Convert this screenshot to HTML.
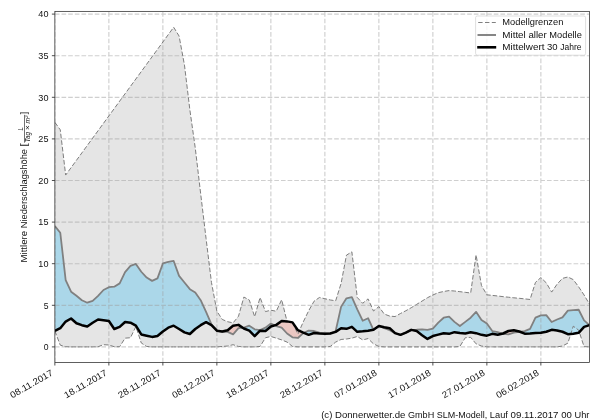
<!DOCTYPE html>
<html><head><meta charset="utf-8"><title>Niederschlag</title>
<style>html,body{margin:0;padding:0;background:#fff;}body{width:600px;height:420px;position:relative;overflow:hidden;font-family:"Liberation Sans",sans-serif;}</style></head>
<body>
<svg width="600" height="420" viewBox="0 0 600 420" style="position:absolute;left:0;top:0;will-change:transform;font-family:'Liberation Sans',sans-serif">
<defs>
<clipPath id="ax"><rect x="54.87" y="11.35" width="534.6" height="351.15"/></clipPath>
<clipPath id="above"><polygon points="54.87,11.35 54.87,330.93 60.27,328.19 65.67,321.55 71.07,318.48 76.47,323.21 81.87,325.20 87.27,326.53 92.67,322.71 98.07,319.47 103.47,320.22 108.87,320.97 114.27,329.02 119.67,326.94 125.07,321.96 130.47,322.71 135.87,325.70 141.27,334.41 146.67,335.66 152.07,336.90 157.47,335.91 162.87,331.51 168.27,327.69 173.67,325.70 179.07,329.02 184.47,332.34 189.87,334.00 195.27,329.02 200.67,325.20 206.07,322.21 211.47,325.20 216.87,330.68 222.27,331.51 227.67,330.18 233.07,325.70 238.47,324.87 243.87,328.52 249.27,330.68 254.67,336.07 260.07,330.68 265.47,331.01 270.87,326.53 276.27,324.87 281.67,321.05 287.07,321.38 292.47,322.38 297.87,330.18 303.27,332.67 308.67,334.83 314.07,333.00 319.47,333.50 324.87,333.83 330.27,333.50 335.67,331.84 341.07,328.19 346.47,328.85 351.87,326.86 357.27,331.84 362.67,331.34 368.07,330.68 373.47,329.85 378.87,326.03 384.27,327.19 389.67,328.19 395.07,333.17 400.47,334.83 405.87,332.67 411.27,329.85 416.67,331.01 422.07,335.16 427.47,338.94 432.87,336.07 438.27,334.66 443.67,333.17 449.07,333.83 454.47,332.17 459.87,333.00 465.27,333.50 470.67,332.34 476.07,333.17 481.47,334.83 486.87,335.66 492.27,333.83 497.67,334.83 503.07,333.50 508.47,331.01 513.87,330.18 519.27,331.51 524.67,333.67 530.07,333.50 535.47,333.00 540.87,332.67 546.27,331.76 551.67,329.85 557.07,330.43 562.47,331.76 567.87,334.17 573.27,333.83 578.67,332.84 584.07,326.86 589.47,325.12 589.47,11.35"/></clipPath>
<clipPath id="below"><polygon points="54.87,362.5 54.87,330.93 60.27,328.19 65.67,321.55 71.07,318.48 76.47,323.21 81.87,325.20 87.27,326.53 92.67,322.71 98.07,319.47 103.47,320.22 108.87,320.97 114.27,329.02 119.67,326.94 125.07,321.96 130.47,322.71 135.87,325.70 141.27,334.41 146.67,335.66 152.07,336.90 157.47,335.91 162.87,331.51 168.27,327.69 173.67,325.70 179.07,329.02 184.47,332.34 189.87,334.00 195.27,329.02 200.67,325.20 206.07,322.21 211.47,325.20 216.87,330.68 222.27,331.51 227.67,330.18 233.07,325.70 238.47,324.87 243.87,328.52 249.27,330.68 254.67,336.07 260.07,330.68 265.47,331.01 270.87,326.53 276.27,324.87 281.67,321.05 287.07,321.38 292.47,322.38 297.87,330.18 303.27,332.67 308.67,334.83 314.07,333.00 319.47,333.50 324.87,333.83 330.27,333.50 335.67,331.84 341.07,328.19 346.47,328.85 351.87,326.86 357.27,331.84 362.67,331.34 368.07,330.68 373.47,329.85 378.87,326.03 384.27,327.19 389.67,328.19 395.07,333.17 400.47,334.83 405.87,332.67 411.27,329.85 416.67,331.01 422.07,335.16 427.47,338.94 432.87,336.07 438.27,334.66 443.67,333.17 449.07,333.83 454.47,332.17 459.87,333.00 465.27,333.50 470.67,332.34 476.07,333.17 481.47,334.83 486.87,335.66 492.27,333.83 497.67,334.83 503.07,333.50 508.47,331.01 513.87,330.18 519.27,331.51 524.67,333.67 530.07,333.50 535.47,333.00 540.87,332.67 546.27,331.76 551.67,329.85 557.07,330.43 562.47,331.76 567.87,334.17 573.27,333.83 578.67,332.84 584.07,326.86 589.47,325.12 589.47,362.5"/></clipPath>
</defs>
<rect width="600" height="420" fill="#fff"/>
<g clip-path="url(#ax)">
<polygon points="54.87,122.35 60.27,129.82 65.67,175.05 71.07,167.66 76.47,160.27 81.87,152.88 87.27,145.49 92.67,138.10 98.07,130.71 103.47,123.32 108.87,115.93 114.27,108.53 119.67,101.14 125.07,93.75 130.47,86.36 135.87,78.97 141.27,71.58 146.67,64.19 152.07,56.80 157.47,49.41 162.87,42.01 168.27,34.62 173.67,27.23 179.07,36.03 184.47,65.08 189.87,109.90 195.27,148.08 200.67,193.73 206.07,238.55 211.47,282.54 216.87,311.17 222.27,319.47 227.67,321.72 233.07,322.88 238.47,316.32 243.87,297.06 249.27,299.97 254.67,316.74 260.07,297.48 265.47,311.59 270.87,310.18 276.27,311.26 281.67,299.72 287.07,321.55 292.47,322.38 297.87,334.17 303.27,321.88 308.67,310.76 314.07,301.21 319.47,297.48 324.87,298.72 330.27,299.97 335.67,300.80 341.07,283.54 346.47,255.15 351.87,251.83 357.27,297.48 362.67,303.29 368.07,298.89 373.47,311.01 378.87,306.61 384.27,314.08 389.67,316.07 395.07,316.57 400.47,313.50 405.87,310.76 411.27,307.69 416.67,304.37 422.07,301.05 427.47,297.73 432.87,294.99 438.27,292.67 443.67,291.50 449.07,290.59 454.47,291.01 459.87,291.67 465.27,292.33 470.67,293.00 476.07,254.90 481.47,285.53 486.87,294.82 492.27,295.40 497.67,295.99 503.07,296.65 508.47,297.23 513.87,297.81 519.27,298.31 524.67,298.89 530.07,299.47 535.47,282.37 540.87,277.56 546.27,282.87 551.67,292.08 557.07,284.20 562.47,278.39 567.87,276.98 573.27,279.63 578.67,286.86 584.07,294.99 589.47,304.12 589.47,346.90 584.07,346.64 578.67,330.18 573.27,326.20 567.87,343.14 562.47,346.02 557.07,346.90 551.67,346.90 546.27,346.90 540.87,346.90 535.47,346.90 530.07,346.90 524.67,346.90 519.27,346.90 513.87,346.90 508.47,346.90 503.07,346.90 497.67,346.90 492.27,346.90 486.87,346.90 481.47,346.02 476.07,343.84 470.67,337.32 465.27,337.74 459.87,346.46 454.47,346.90 449.07,346.90 443.67,346.90 438.27,346.90 432.87,346.90 427.47,346.90 422.07,346.90 416.67,346.90 411.27,346.90 405.87,346.90 400.47,346.90 395.07,346.90 389.67,346.90 384.27,346.90 378.87,346.46 373.47,343.84 368.07,338.59 362.67,339.90 357.27,336.49 351.87,338.15 346.47,339.02 341.07,339.46 335.67,342.09 330.27,346.46 324.87,346.90 319.47,346.90 314.07,346.90 308.67,346.90 303.27,346.90 297.87,346.90 292.47,346.46 287.07,342.09 281.67,339.90 276.27,338.15 270.87,336.49 265.47,337.74 260.07,346.46 254.67,346.90 249.27,346.90 243.87,346.90 238.47,346.46 233.07,344.71 227.67,346.02 222.27,346.46 216.87,346.90 211.47,346.90 206.07,346.90 200.67,346.90 195.27,346.90 189.87,346.90 184.47,346.90 179.07,346.90 173.67,346.90 168.27,346.90 162.87,346.90 157.47,346.90 152.07,346.90 146.67,346.46 141.27,342.96 135.87,326.53 130.47,337.74 125.07,338.15 119.67,346.72 114.27,346.72 108.87,344.97 103.47,344.71 98.07,346.72 92.67,346.90 87.27,346.90 81.87,346.90 76.47,346.90 71.07,346.90 65.67,346.72 60.27,345.15 54.87,330.93" fill="#e5e5e5"/>
<g clip-path="url(#above)"><polygon points="54.87,226.10 60.27,232.74 65.67,280.05 71.07,291.67 76.47,295.82 81.87,300.22 87.27,302.71 92.67,300.80 98.07,295.82 103.47,290.01 108.87,287.19 114.27,286.69 119.67,283.37 125.07,272.16 130.47,265.94 135.87,263.95 141.27,271.75 146.67,277.56 152.07,280.88 157.47,278.39 162.87,263.45 168.27,261.79 173.67,260.96 179.07,275.90 184.47,282.54 189.87,289.18 195.27,292.50 200.67,300.22 206.07,311.84 211.47,324.37 216.87,330.68 222.27,331.84 227.67,331.84 233.07,334.33 238.47,328.19 243.87,327.69 249.27,325.70 254.67,329.35 260.07,330.18 265.47,327.69 270.87,323.54 276.27,326.03 281.67,327.69 287.07,333.50 292.47,337.32 297.87,337.98 303.27,333.17 308.67,330.68 314.07,331.01 319.47,332.67 324.87,333.50 330.27,333.50 335.67,331.01 341.07,306.86 346.47,298.31 351.87,297.23 357.27,309.35 362.67,320.72 368.07,318.23 373.47,329.85 378.87,326.03 384.27,328.19 389.67,330.18 395.07,333.17 400.47,334.83 405.87,332.67 411.27,329.85 416.67,329.68 422.07,329.35 427.47,329.85 432.87,328.52 438.27,322.71 443.67,317.73 449.07,316.57 454.47,321.88 459.87,326.03 465.27,321.88 470.67,317.73 476.07,311.84 481.47,319.89 486.87,323.54 492.27,331.01 497.67,332.17 503.07,333.83 508.47,334.33 513.87,332.67 519.27,331.84 524.67,331.18 530.07,328.85 535.47,317.65 540.87,315.41 546.27,315.08 551.67,322.05 557.07,319.47 562.47,317.40 567.87,310.59 573.27,310.18 578.67,309.76 584.07,320.31 589.47,325.12 589.47,325.12 584.07,326.86 578.67,332.84 573.27,333.83 567.87,334.17 562.47,331.76 557.07,330.43 551.67,329.85 546.27,331.76 540.87,332.67 535.47,333.00 530.07,333.50 524.67,333.67 519.27,331.51 513.87,330.18 508.47,331.01 503.07,333.50 497.67,334.83 492.27,333.83 486.87,335.66 481.47,334.83 476.07,333.17 470.67,332.34 465.27,333.50 459.87,333.00 454.47,332.17 449.07,333.83 443.67,333.17 438.27,334.66 432.87,336.07 427.47,338.94 422.07,335.16 416.67,331.01 411.27,329.85 405.87,332.67 400.47,334.83 395.07,333.17 389.67,328.19 384.27,327.19 378.87,326.03 373.47,329.85 368.07,330.68 362.67,331.34 357.27,331.84 351.87,326.86 346.47,328.85 341.07,328.19 335.67,331.84 330.27,333.50 324.87,333.83 319.47,333.50 314.07,333.00 308.67,334.83 303.27,332.67 297.87,330.18 292.47,322.38 287.07,321.38 281.67,321.05 276.27,324.87 270.87,326.53 265.47,331.01 260.07,330.68 254.67,336.07 249.27,330.68 243.87,328.52 238.47,324.87 233.07,325.70 227.67,330.18 222.27,331.51 216.87,330.68 211.47,325.20 206.07,322.21 200.67,325.20 195.27,329.02 189.87,334.00 184.47,332.34 179.07,329.02 173.67,325.70 168.27,327.69 162.87,331.51 157.47,335.91 152.07,336.90 146.67,335.66 141.27,334.41 135.87,325.70 130.47,322.71 125.07,321.96 119.67,326.94 114.27,329.02 108.87,320.97 103.47,320.22 98.07,319.47 92.67,322.71 87.27,326.53 81.87,325.20 76.47,323.21 71.07,318.48 65.67,321.55 60.27,328.19 54.87,330.93" fill="rgb(135,206,235)" fill-opacity="0.62"/></g>
<g clip-path="url(#below)"><polygon points="54.87,226.10 60.27,232.74 65.67,280.05 71.07,291.67 76.47,295.82 81.87,300.22 87.27,302.71 92.67,300.80 98.07,295.82 103.47,290.01 108.87,287.19 114.27,286.69 119.67,283.37 125.07,272.16 130.47,265.94 135.87,263.95 141.27,271.75 146.67,277.56 152.07,280.88 157.47,278.39 162.87,263.45 168.27,261.79 173.67,260.96 179.07,275.90 184.47,282.54 189.87,289.18 195.27,292.50 200.67,300.22 206.07,311.84 211.47,324.37 216.87,330.68 222.27,331.84 227.67,331.84 233.07,334.33 238.47,328.19 243.87,327.69 249.27,325.70 254.67,329.35 260.07,330.18 265.47,327.69 270.87,323.54 276.27,326.03 281.67,327.69 287.07,333.50 292.47,337.32 297.87,337.98 303.27,333.17 308.67,330.68 314.07,331.01 319.47,332.67 324.87,333.50 330.27,333.50 335.67,331.01 341.07,306.86 346.47,298.31 351.87,297.23 357.27,309.35 362.67,320.72 368.07,318.23 373.47,329.85 378.87,326.03 384.27,328.19 389.67,330.18 395.07,333.17 400.47,334.83 405.87,332.67 411.27,329.85 416.67,329.68 422.07,329.35 427.47,329.85 432.87,328.52 438.27,322.71 443.67,317.73 449.07,316.57 454.47,321.88 459.87,326.03 465.27,321.88 470.67,317.73 476.07,311.84 481.47,319.89 486.87,323.54 492.27,331.01 497.67,332.17 503.07,333.83 508.47,334.33 513.87,332.67 519.27,331.84 524.67,331.18 530.07,328.85 535.47,317.65 540.87,315.41 546.27,315.08 551.67,322.05 557.07,319.47 562.47,317.40 567.87,310.59 573.27,310.18 578.67,309.76 584.07,320.31 589.47,325.12 589.47,325.12 584.07,326.86 578.67,332.84 573.27,333.83 567.87,334.17 562.47,331.76 557.07,330.43 551.67,329.85 546.27,331.76 540.87,332.67 535.47,333.00 530.07,333.50 524.67,333.67 519.27,331.51 513.87,330.18 508.47,331.01 503.07,333.50 497.67,334.83 492.27,333.83 486.87,335.66 481.47,334.83 476.07,333.17 470.67,332.34 465.27,333.50 459.87,333.00 454.47,332.17 449.07,333.83 443.67,333.17 438.27,334.66 432.87,336.07 427.47,338.94 422.07,335.16 416.67,331.01 411.27,329.85 405.87,332.67 400.47,334.83 395.07,333.17 389.67,328.19 384.27,327.19 378.87,326.03 373.47,329.85 368.07,330.68 362.67,331.34 357.27,331.84 351.87,326.86 346.47,328.85 341.07,328.19 335.67,331.84 330.27,333.50 324.87,333.83 319.47,333.50 314.07,333.00 308.67,334.83 303.27,332.67 297.87,330.18 292.47,322.38 287.07,321.38 281.67,321.05 276.27,324.87 270.87,326.53 265.47,331.01 260.07,330.68 254.67,336.07 249.27,330.68 243.87,328.52 238.47,324.87 233.07,325.70 227.67,330.18 222.27,331.51 216.87,330.68 211.47,325.20 206.07,322.21 200.67,325.20 195.27,329.02 189.87,334.00 184.47,332.34 179.07,329.02 173.67,325.70 168.27,327.69 162.87,331.51 157.47,335.91 152.07,336.90 146.67,335.66 141.27,334.41 135.87,325.70 130.47,322.71 125.07,321.96 119.67,326.94 114.27,329.02 108.87,320.97 103.47,320.22 98.07,319.47 92.67,322.71 87.27,326.53 81.87,325.20 76.47,323.21 71.07,318.48 65.67,321.55 60.27,328.19 54.87,330.93" fill="rgb(250,128,114)" fill-opacity="0.3"/></g>
<path d="M54.87,362.5V11.35M108.87,362.5V11.35M162.87,362.5V11.35M216.87,362.5V11.35M270.87,362.5V11.35M324.87,362.5V11.35M378.87,362.5V11.35M432.87,362.5V11.35M486.87,362.5V11.35M540.87,362.5V11.35M54.87,346.90H589.47M54.87,305.30H589.47M54.87,263.70H589.47M54.87,222.10H589.47M54.87,180.50H589.47M54.87,138.90H589.47M54.87,97.30H589.47M54.87,55.70H589.47M54.87,14.10H589.47" stroke="#a0a0a0" stroke-opacity="0.5" stroke-width="1.15" stroke-dasharray="4.64 2.01" fill="none"/>
<polyline points="54.87,122.35 60.27,129.82 65.67,175.05 71.07,167.66 76.47,160.27 81.87,152.88 87.27,145.49 92.67,138.10 98.07,130.71 103.47,123.32 108.87,115.93 114.27,108.53 119.67,101.14 125.07,93.75 130.47,86.36 135.87,78.97 141.27,71.58 146.67,64.19 152.07,56.80 157.47,49.41 162.87,42.01 168.27,34.62 173.67,27.23 179.07,36.03 184.47,65.08 189.87,109.90 195.27,148.08 200.67,193.73 206.07,238.55 211.47,282.54 216.87,311.17 222.27,319.47 227.67,321.72 233.07,322.88 238.47,316.32 243.87,297.06 249.27,299.97 254.67,316.74 260.07,297.48 265.47,311.59 270.87,310.18 276.27,311.26 281.67,299.72 287.07,321.55 292.47,322.38 297.87,334.17 303.27,321.88 308.67,310.76 314.07,301.21 319.47,297.48 324.87,298.72 330.27,299.97 335.67,300.80 341.07,283.54 346.47,255.15 351.87,251.83 357.27,297.48 362.67,303.29 368.07,298.89 373.47,311.01 378.87,306.61 384.27,314.08 389.67,316.07 395.07,316.57 400.47,313.50 405.87,310.76 411.27,307.69 416.67,304.37 422.07,301.05 427.47,297.73 432.87,294.99 438.27,292.67 443.67,291.50 449.07,290.59 454.47,291.01 459.87,291.67 465.27,292.33 470.67,293.00 476.07,254.90 481.47,285.53 486.87,294.82 492.27,295.40 497.67,295.99 503.07,296.65 508.47,297.23 513.87,297.81 519.27,298.31 524.67,298.89 530.07,299.47 535.47,282.37 540.87,277.56 546.27,282.87 551.67,292.08 557.07,284.20 562.47,278.39 567.87,276.98 573.27,279.63 578.67,286.86 584.07,294.99 589.47,304.12" fill="none" stroke="#7d7d7d" stroke-width="1.0" stroke-dasharray="4.6 2"/>
<polyline points="54.87,330.93 60.27,345.15 65.67,346.72 71.07,346.90 76.47,346.90 81.87,346.90 87.27,346.90 92.67,346.90 98.07,346.72 103.47,344.71 108.87,344.97 114.27,346.72 119.67,346.72 125.07,338.15 130.47,337.74 135.87,326.53 141.27,342.96 146.67,346.46 152.07,346.90 157.47,346.90 162.87,346.90 168.27,346.90 173.67,346.90 179.07,346.90 184.47,346.90 189.87,346.90 195.27,346.90 200.67,346.90 206.07,346.90 211.47,346.90 216.87,346.90 222.27,346.46 227.67,346.02 233.07,344.71 238.47,346.46 243.87,346.90 249.27,346.90 254.67,346.90 260.07,346.46 265.47,337.74 270.87,336.49 276.27,338.15 281.67,339.90 287.07,342.09 292.47,346.46 297.87,346.90 303.27,346.90 308.67,346.90 314.07,346.90 319.47,346.90 324.87,346.90 330.27,346.46 335.67,342.09 341.07,339.46 346.47,339.02 351.87,338.15 357.27,336.49 362.67,339.90 368.07,338.59 373.47,343.84 378.87,346.46 384.27,346.90 389.67,346.90 395.07,346.90 400.47,346.90 405.87,346.90 411.27,346.90 416.67,346.90 422.07,346.90 427.47,346.90 432.87,346.90 438.27,346.90 443.67,346.90 449.07,346.90 454.47,346.90 459.87,346.46 465.27,337.74 470.67,337.32 476.07,343.84 481.47,346.02 486.87,346.90 492.27,346.90 497.67,346.90 503.07,346.90 508.47,346.90 513.87,346.90 519.27,346.90 524.67,346.90 530.07,346.90 535.47,346.90 540.87,346.90 546.27,346.90 551.67,346.90 557.07,346.90 562.47,346.02 567.87,343.14 573.27,326.20 578.67,330.18 584.07,346.64 589.47,346.90" fill="none" stroke="#7d7d7d" stroke-width="1.0" stroke-dasharray="4.6 2"/>
<polyline points="54.87,226.10 60.27,232.74 65.67,280.05 71.07,291.67 76.47,295.82 81.87,300.22 87.27,302.71 92.67,300.80 98.07,295.82 103.47,290.01 108.87,287.19 114.27,286.69 119.67,283.37 125.07,272.16 130.47,265.94 135.87,263.95 141.27,271.75 146.67,277.56 152.07,280.88 157.47,278.39 162.87,263.45 168.27,261.79 173.67,260.96 179.07,275.90 184.47,282.54 189.87,289.18 195.27,292.50 200.67,300.22 206.07,311.84 211.47,324.37 216.87,330.68 222.27,331.84 227.67,331.84 233.07,334.33 238.47,328.19 243.87,327.69 249.27,325.70 254.67,329.35 260.07,330.18 265.47,327.69 270.87,323.54 276.27,326.03 281.67,327.69 287.07,333.50 292.47,337.32 297.87,337.98 303.27,333.17 308.67,330.68 314.07,331.01 319.47,332.67 324.87,333.50 330.27,333.50 335.67,331.01 341.07,306.86 346.47,298.31 351.87,297.23 357.27,309.35 362.67,320.72 368.07,318.23 373.47,329.85 378.87,326.03 384.27,328.19 389.67,330.18 395.07,333.17 400.47,334.83 405.87,332.67 411.27,329.85 416.67,329.68 422.07,329.35 427.47,329.85 432.87,328.52 438.27,322.71 443.67,317.73 449.07,316.57 454.47,321.88 459.87,326.03 465.27,321.88 470.67,317.73 476.07,311.84 481.47,319.89 486.87,323.54 492.27,331.01 497.67,332.17 503.07,333.83 508.47,334.33 513.87,332.67 519.27,331.84 524.67,331.18 530.07,328.85 535.47,317.65 540.87,315.41 546.27,315.08 551.67,322.05 557.07,319.47 562.47,317.40 567.87,310.59 573.27,310.18 578.67,309.76 584.07,320.31 589.47,325.12" fill="none" stroke="#808080" stroke-width="1.8" stroke-linejoin="round"/>
<polyline points="54.87,330.93 60.27,328.19 65.67,321.55 71.07,318.48 76.47,323.21 81.87,325.20 87.27,326.53 92.67,322.71 98.07,319.47 103.47,320.22 108.87,320.97 114.27,329.02 119.67,326.94 125.07,321.96 130.47,322.71 135.87,325.70 141.27,334.41 146.67,335.66 152.07,336.90 157.47,335.91 162.87,331.51 168.27,327.69 173.67,325.70 179.07,329.02 184.47,332.34 189.87,334.00 195.27,329.02 200.67,325.20 206.07,322.21 211.47,325.20 216.87,330.68 222.27,331.51 227.67,330.18 233.07,325.70 238.47,324.87 243.87,328.52 249.27,330.68 254.67,336.07 260.07,330.68 265.47,331.01 270.87,326.53 276.27,324.87 281.67,321.05 287.07,321.38 292.47,322.38 297.87,330.18 303.27,332.67 308.67,334.83 314.07,333.00 319.47,333.50 324.87,333.83 330.27,333.50 335.67,331.84 341.07,328.19 346.47,328.85 351.87,326.86 357.27,331.84 362.67,331.34 368.07,330.68 373.47,329.85 378.87,326.03 384.27,327.19 389.67,328.19 395.07,333.17 400.47,334.83 405.87,332.67 411.27,329.85 416.67,331.01 422.07,335.16 427.47,338.94 432.87,336.07 438.27,334.66 443.67,333.17 449.07,333.83 454.47,332.17 459.87,333.00 465.27,333.50 470.67,332.34 476.07,333.17 481.47,334.83 486.87,335.66 492.27,333.83 497.67,334.83 503.07,333.50 508.47,331.01 513.87,330.18 519.27,331.51 524.67,333.67 530.07,333.50 535.47,333.00 540.87,332.67 546.27,331.76 551.67,329.85 557.07,330.43 562.47,331.76 567.87,334.17 573.27,333.83 578.67,332.84 584.07,326.86 589.47,325.12" fill="none" stroke="#000" stroke-width="2.5" stroke-linejoin="round"/>
</g>
<rect x="54.87" y="11.35" width="534.6" height="351.15" fill="none" stroke="#222" stroke-width="0.72"/>
<path d="M54.87,362.5v3M108.87,362.5v3M162.87,362.5v3M216.87,362.5v3M270.87,362.5v3M324.87,362.5v3M378.87,362.5v3M432.87,362.5v3M486.87,362.5v3M540.87,362.5v3M54.87,346.90h-3M54.87,305.30h-3M54.87,263.70h-3M54.87,222.10h-3M54.87,180.50h-3M54.87,138.90h-3M54.87,97.30h-3M54.87,55.70h-3M54.87,14.10h-3" stroke="#222" stroke-width="0.8" fill="none"/>
<text x="43.67" y="350.10" font-size="9.0" fill="#111" textLength="4.80" lengthAdjust="spacingAndGlyphs">0</text>
<text x="43.67" y="308.50" font-size="9.0" fill="#111" textLength="4.80" lengthAdjust="spacingAndGlyphs">5</text>
<text x="38.37" y="266.90" font-size="9.0" fill="#111" textLength="10.10" lengthAdjust="spacingAndGlyphs">10</text>
<text x="38.37" y="225.30" font-size="9.0" fill="#111" textLength="10.10" lengthAdjust="spacingAndGlyphs">15</text>
<text x="38.37" y="183.70" font-size="9.0" fill="#111" textLength="10.10" lengthAdjust="spacingAndGlyphs">20</text>
<text x="38.37" y="142.10" font-size="9.0" fill="#111" textLength="10.10" lengthAdjust="spacingAndGlyphs">25</text>
<text x="38.37" y="100.50" font-size="9.0" fill="#111" textLength="10.10" lengthAdjust="spacingAndGlyphs">30</text>
<text x="38.37" y="58.90" font-size="9.0" fill="#111" textLength="10.10" lengthAdjust="spacingAndGlyphs">35</text>
<text x="38.37" y="17.30" font-size="9.0" fill="#111" textLength="10.10" lengthAdjust="spacingAndGlyphs">40</text>
<text transform="translate(53.67,374.6) rotate(-30)" x="-47.7" y="0" font-size="9.0" fill="#111" textLength="47.7" lengthAdjust="spacingAndGlyphs">08.11.2017</text>
<text transform="translate(107.67,374.6) rotate(-30)" x="-47.7" y="0" font-size="9.0" fill="#111" textLength="47.7" lengthAdjust="spacingAndGlyphs">18.11.2017</text>
<text transform="translate(161.67,374.6) rotate(-30)" x="-47.7" y="0" font-size="9.0" fill="#111" textLength="47.7" lengthAdjust="spacingAndGlyphs">28.11.2017</text>
<text transform="translate(215.67,374.6) rotate(-30)" x="-47.7" y="0" font-size="9.0" fill="#111" textLength="47.7" lengthAdjust="spacingAndGlyphs">08.12.2017</text>
<text transform="translate(269.67,374.6) rotate(-30)" x="-47.7" y="0" font-size="9.0" fill="#111" textLength="47.7" lengthAdjust="spacingAndGlyphs">18.12.2017</text>
<text transform="translate(323.67,374.6) rotate(-30)" x="-47.7" y="0" font-size="9.0" fill="#111" textLength="47.7" lengthAdjust="spacingAndGlyphs">28.12.2017</text>
<text transform="translate(377.67,374.6) rotate(-30)" x="-47.7" y="0" font-size="9.0" fill="#111" textLength="47.7" lengthAdjust="spacingAndGlyphs">07.01.2018</text>
<text transform="translate(431.67,374.6) rotate(-30)" x="-47.7" y="0" font-size="9.0" fill="#111" textLength="47.7" lengthAdjust="spacingAndGlyphs">17.01.2018</text>
<text transform="translate(485.67,374.6) rotate(-30)" x="-47.7" y="0" font-size="9.0" fill="#111" textLength="47.7" lengthAdjust="spacingAndGlyphs">27.01.2018</text>
<text transform="translate(539.67,374.6) rotate(-30)" x="-47.7" y="0" font-size="9.0" fill="#111" textLength="47.7" lengthAdjust="spacingAndGlyphs">06.02.2018</text>
<g transform="translate(27.2,186.93) rotate(-90)" fill="#111"><text x="-75.60" y="0.00" font-size="9.0" textLength="31.70" lengthAdjust="spacingAndGlyphs" >Mittlere</text><text x="-41.26" y="0.00" font-size="9.0" textLength="79.19" lengthAdjust="spacingAndGlyphs" >Niederschlagshöhe</text><text x="40.56" y="0.00" font-size="9.0" textLength="3.24" lengthAdjust="spacingAndGlyphs" >[</text><text x="56.5" y="-4.2" font-size="6.8" font-style="italic" textLength="3.3" lengthAdjust="spacingAndGlyphs">L</text><rect x="44.3" y="-3.0" width="27.8" height="0.6"/><text x="44.70" y="2.60" font-size="6.3" textLength="10.23" lengthAdjust="spacingAndGlyphs" font-style="italic">Tag</text><text x="56.78" y="2.60" font-size="6.3" textLength="4.89" lengthAdjust="spacingAndGlyphs" font-style="italic">×</text><text x="63.52" y="2.60" font-size="6.3" textLength="5.68" lengthAdjust="spacingAndGlyphs" font-style="italic">m</text><text x="69.3" y="0.4" font-size="4.4" font-style="italic" textLength="2.4" lengthAdjust="spacingAndGlyphs">2</text><text x="72.8" y="0" font-size="9.0">]</text></g>
<rect x="475.6" y="16.0" width="110" height="39.2" rx="1.7" fill="#fff" fill-opacity="0.8" stroke="#ccc" stroke-opacity="0.8" stroke-width="0.8"/>
<path d="M478.2,22.5H495.8" stroke="#808080" stroke-width="1.0" stroke-dasharray="4.4 2.4"/>
<path d="M477.5,35H496" stroke="#808080" stroke-width="1.9"/>
<path d="M477.2,47.3H496.2" stroke="#000" stroke-width="2.6"/>
<text x="502.30" y="25.10" font-size="9.0" textLength="61.06" lengthAdjust="spacingAndGlyphs" fill="#111">Modellgrenzen</text>
<text x="502.30" y="37.60" font-size="9.0" textLength="23.48" lengthAdjust="spacingAndGlyphs" fill="#111">Mittel</text><text x="528.43" y="37.60" font-size="9.0" textLength="18.29" lengthAdjust="spacingAndGlyphs" fill="#111">aller</text><text x="549.37" y="37.60" font-size="9.0" textLength="32.46" lengthAdjust="spacingAndGlyphs" fill="#111">Modelle</text>
<text x="502.30" y="50.10" font-size="9.0" textLength="42.12" lengthAdjust="spacingAndGlyphs" fill="#111">Mittelwert</text><text x="547.07" y="50.10" font-size="9.0" textLength="10.60" lengthAdjust="spacingAndGlyphs" fill="#111">30</text><text x="560.32" y="50.10" font-size="9.0" textLength="21.22" lengthAdjust="spacingAndGlyphs" fill="#111">Jahre</text>
<text x="321.20" y="418.00" font-size="9.0" textLength="11.14" lengthAdjust="spacingAndGlyphs" fill="#111">(c)</text><text x="335.00" y="418.00" font-size="9.0" textLength="70.30" lengthAdjust="spacingAndGlyphs" fill="#111">Donnerwetter.de</text><text x="407.96" y="418.00" font-size="9.0" textLength="26.26" lengthAdjust="spacingAndGlyphs" fill="#111">GmbH</text><text x="436.87" y="418.00" font-size="9.0" textLength="50.35" lengthAdjust="spacingAndGlyphs" fill="#111">SLM-Modell,</text><text x="489.89" y="418.00" font-size="9.0" textLength="18.05" lengthAdjust="spacingAndGlyphs" fill="#111">Lauf</text><text x="510.60" y="418.00" font-size="9.0" textLength="47.94" lengthAdjust="spacingAndGlyphs" fill="#111">09.11.2017</text><text x="561.21" y="418.00" font-size="9.0" textLength="10.65" lengthAdjust="spacingAndGlyphs" fill="#111">00</text><text x="574.52" y="418.00" font-size="9.0" textLength="14.88" lengthAdjust="spacingAndGlyphs" fill="#111">Uhr</text>
</svg>
</body></html>
